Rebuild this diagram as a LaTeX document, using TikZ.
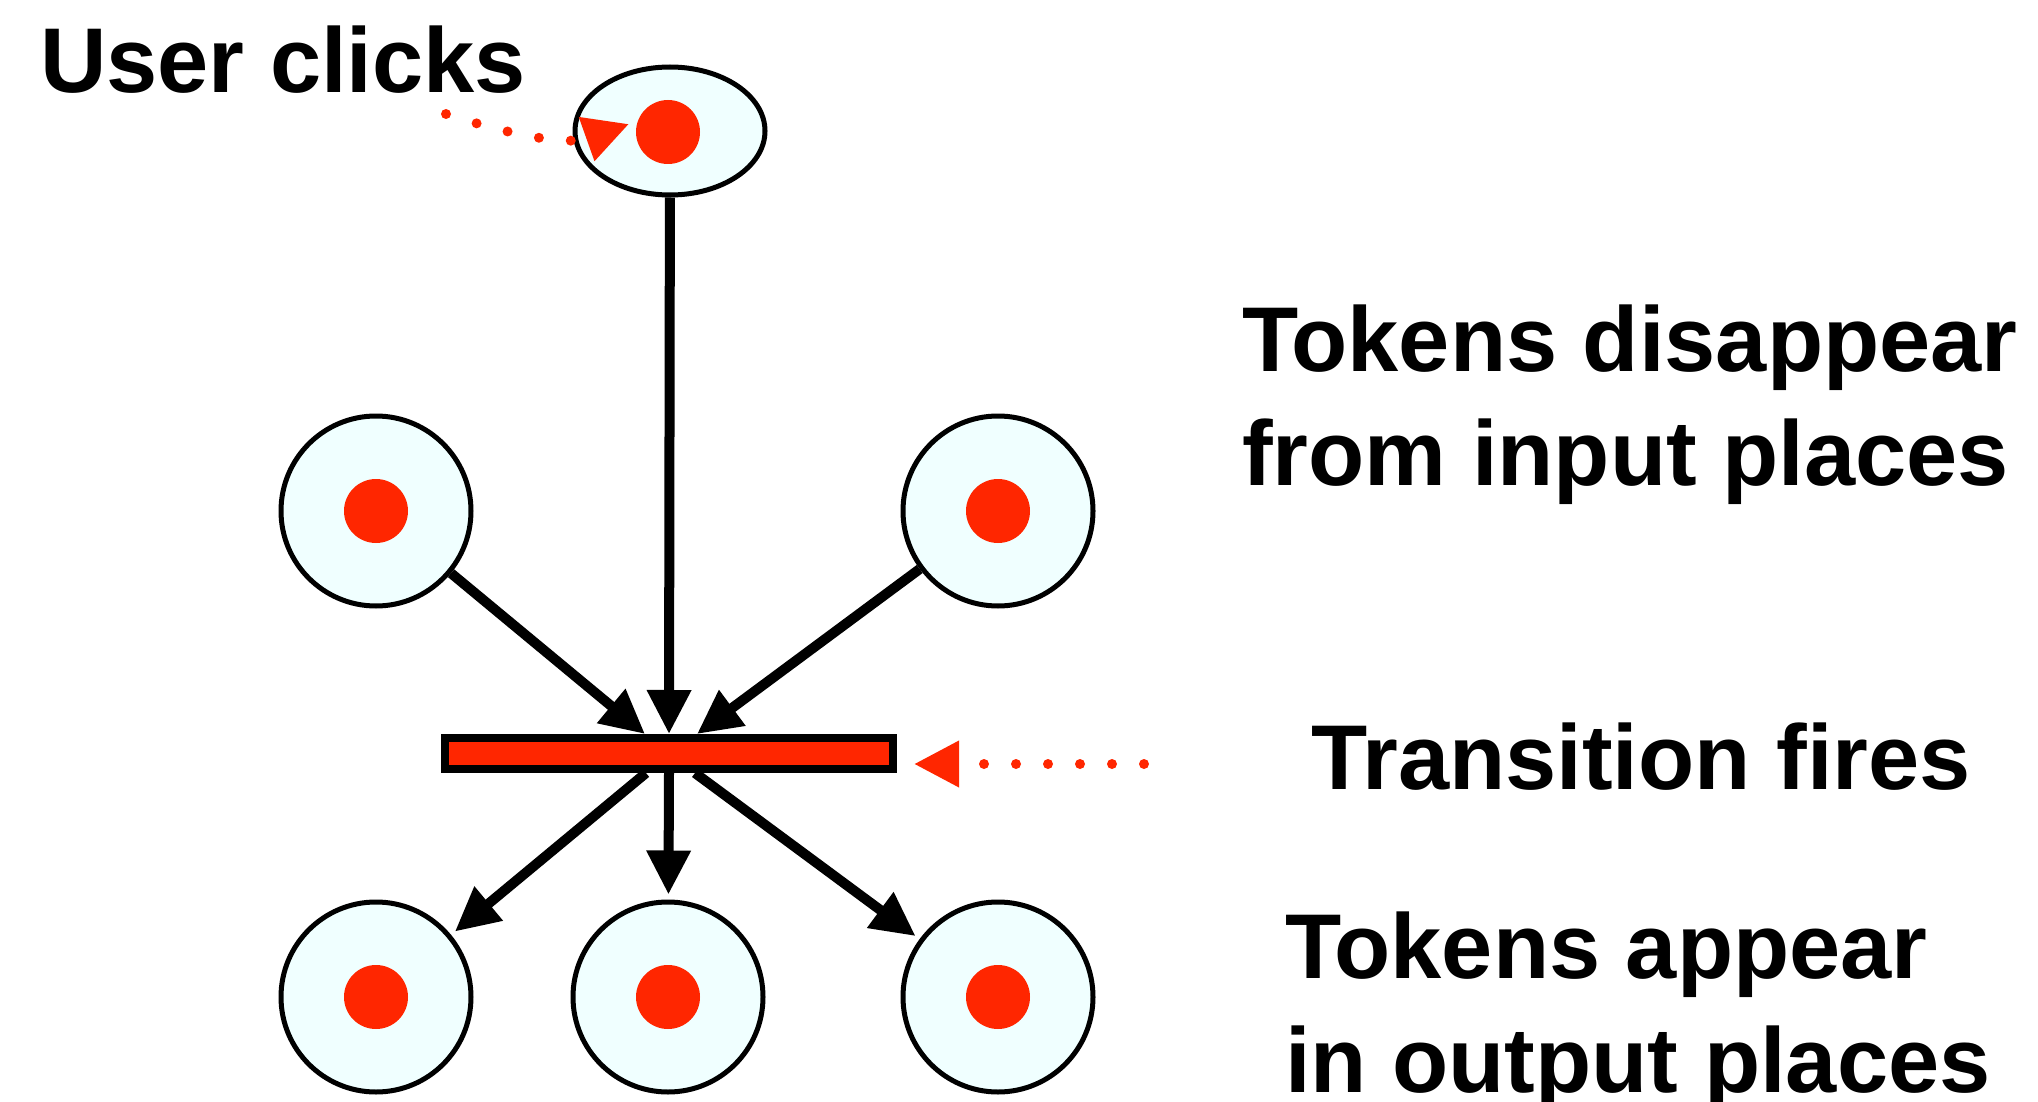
\documentclass[tikz,border=0pt]{standalone}
\usepackage{fontspec}
\setmainfont{Liberation Sans}
\usetikzlibrary{arrows.meta,shapes.geometric}
\definecolor{tokred}{HTML}{FF2600}
\definecolor{placefill}{HTML}{F0FFFF}
\tikzset{
  place/.style={circle, draw=black, line width=5pt, fill=placefill, minimum size=190pt, inner sep=0pt},
  clickplace/.style={ellipse, draw=black, line width=5pt, fill=placefill, minimum width=190pt, minimum height=128pt, inner sep=0pt},
  token/.style={circle, fill=tokred, minimum size=64pt, inner sep=0pt},
  transbar/.style={rectangle, draw=black, line width=8pt, fill=tokred, minimum width=448pt, minimum height=31pt, inner sep=0pt},
  arc/.style={line width=10pt, -{Triangle[length=44pt,width=42pt]}},
  reddots/.style={tokred, line width=10pt, line cap=round, dash pattern=on 0pt off 32pt, -{Triangle[length=45pt,width=44pt]}},
  label/.style={font=\fontsize{92}{114}\selectfont\bfseries, inner sep=0pt, align=left}
}
\begin{document}
\begin{tikzpicture}[x=1pt,y=-1pt]
\useasboundingbox (0,0) rectangle (2038,1102);

% places
\node[clickplace] (click) at (670,131) {};
\node[token] (clicktok) at (668,132) {};
\node[place] (in1) at (376,511) {};
\node[token] (in1tok) at (376,511) {};
\node[place] (in2) at (998,511) {};
\node[token] (in2tok) at (998,511) {};
\node[place] (out1) at (376,997) {};
\node[token] (out1tok) at (376,997) {};
\node[place] (out2) at (668,997) {};
\node[token] (out2tok) at (668,997) {};
\node[place] (out3) at (998,997) {};
\node[token] (out3tok) at (998,997) {};

% transition
\coordinate (t1) at (645,734);
\coordinate (t2) at (669,734);
\coordinate (t3) at (697,734);
\coordinate (s1) at (646,773);
\coordinate (s2) at (669,773);
\coordinate (s3) at (695,773);

\draw[arc] (in1) -- (t1);
\draw[arc] (click) -- (t2);
\draw[arc] (in2) -- (t3);
\draw[arc, shorten >=5pt] (s1) -- (out1);
\draw[arc, shorten >=5pt] (s2) -- (out2);
\draw[arc, shorten >=5pt] (s3) -- (out3);

\node[transbar] (bar) at (669,753.5) {};

% red dotted pointers
\coordinate (clickStart) at (446,114);
\coordinate (clickTip) at (629,124);
\draw[reddots] (clickStart) .. controls (520,138) and (570,145) .. (clickTip);
\coordinate (fireStart) at (1144,764);
\coordinate (fireTip) at (914,764);
\draw[reddots] (fireStart) -- (fireTip);

% labels
\node[label, anchor=base west] (lclick) at (40,93) {User clicks};
\node[label, anchor=north west] (ldis) at (1242,305) {Tokens disappear\\from input places};
\node[label, anchor=base west] (lfire) at (1311,789) {Transition fires};
\node[label, anchor=north west] (lapp) at (1285,912) {Tokens appear\\in output places};
\end{tikzpicture}
\end{document}
